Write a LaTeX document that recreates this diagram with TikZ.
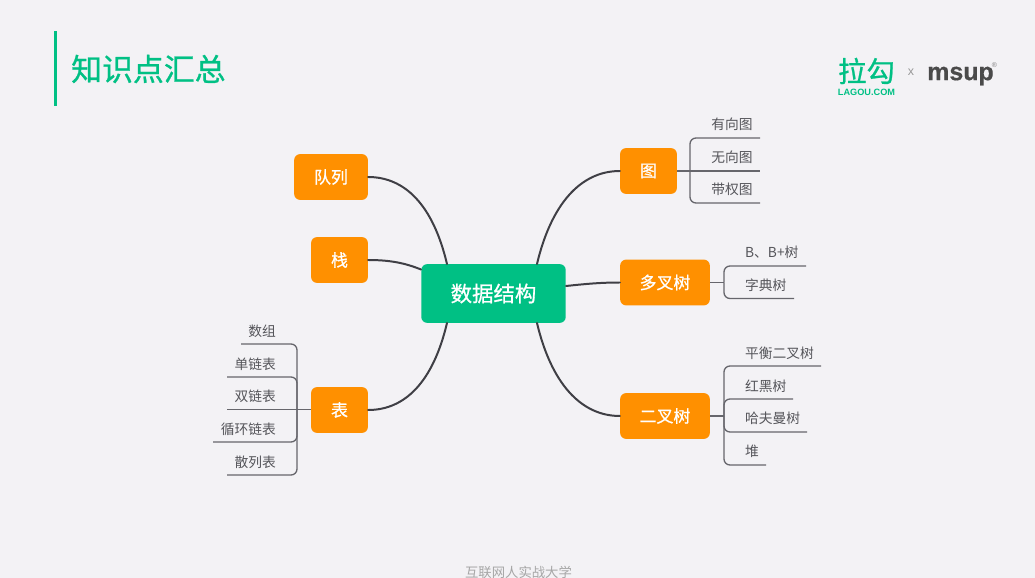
\documentclass[tikz,border=0pt]{standalone}
\usepackage{fontspec}
\setmainfont{Noto Sans CJK SC}
\newfontfamily\logofont{Liberation Sans}
\newfontfamily\midfont[FakeBold=0.8]{Noto Sans CJK SC}
\newfontfamily\logoheavy[FakeBold=0.5]{Liberation Sans Bold}
\definecolor{bgc}{HTML}{F3F2F5}
\definecolor{orangebox}{HTML}{FF9000}
\definecolor{greenbox}{HTML}{00C084}
\definecolor{mainline}{HTML}{3F3F45}
\definecolor{subline}{HTML}{66666C}
\definecolor{leaftext}{HTML}{55555A}
\definecolor{logogray}{HTML}{4A4A4A}
\newcommand{\fsz}[1]{\fontsize{#1}{#1}\selectfont}
\tikzset{
  box/.style={fill=orangebox,rounded corners=6,text=white,inner sep=0,font=\midfont\fsz{17}},
  rootbox/.style={fill=greenbox,rounded corners=6,text=white,inner sep=0,font=\midfont\fsz{21.5}},
  leafr/.style={text=leaftext,inner sep=0,anchor=east,font=\fsz{13.8}},
  leafl/.style={text=leaftext,inner sep=0,anchor=west,font=\fsz{13.8}},
  leafc/.style={text=leaftext,inner sep=0,anchor=center,font=\fsz{13.8}},
  trunk/.style={draw=mainline,line width=2,line cap=round},
  branch/.style={draw=subline,line width=1.3,rounded corners=6},
  stem/.style={draw=subline,line width=1.3},
}
\begin{document}
\begin{tikzpicture}[x=1bp,y=-1bp]
\fill[bgc] (0,0) rectangle (1035,578);
\useasboundingbox (0,0) rectangle (1035,578);

% header
\fill[greenbox] (53.5,31) rectangle (56.5,106);
\node[text=greenbox,inner sep=0,anchor=west,font=\midfont\fsz{31}] (title) at (71,69) {知识点汇总};
\node[text=greenbox,inner sep=0,font=\midfont\fsz{28.5}] (logoa) at (866.5,71) {拉勾};
\node[text=greenbox,inner sep=0,font=\logofont\fsz{9.2}\bfseries] (logob) at (866.5,92) {LAGOU.COM};
\node[text=gray!80,inner sep=0,font=\logofont\fsz{12.5}] (logox) at (911,72) {x};
\node[text=logogray,inner sep=0,font=\logoheavy\fsz{25}] (logoc) at (960.5,76) {msup};
\node[text=gray,inner sep=0,font=\logofont\fsz{7}] (logor) at (994.5,65) {®};
\node[text=gray!70,inner sep=0,font=\fsz{13.4}] (foot) at (518.5,572) {互联网人实战大学};

% main boxes
\node[rootbox,minimum width=145,minimum height=59] (root) at (493.5,293.5) {数据结构};
\node[box,minimum width=74,minimum height=46] (queue) at (331,177) {队列};
\node[box,minimum width=57,minimum height=46] (stack) at (339.5,260) {栈};
\node[box,minimum width=57,minimum height=46] (table) at (339.5,410) {表};
\node[box,minimum width=57,minimum height=46] (graph) at (648.5,171) {图};
\node[box,minimum width=90,minimum height=46] (mtree) at (665,282.5) {多叉树};
\node[box,minimum width=90,minimum height=46] (btree) at (665,416) {二叉树};

% main connectors
\coordinate (rtl) at (447,264);
\coordinate (rtr) at (537,264);
\coordinate (rbl) at (447,323);
\coordinate (rbr) at (537,323);
\coordinate (rsl) at (421,269.5);
\coordinate (rmr) at (566,286);
\draw[trunk] (rtl) .. controls (433,205) and (405,177) .. (queue.east);
\draw[trunk] (rsl) .. controls (405,263) and (390,260) .. (stack.east);
\draw[trunk] (rbl) .. controls (433,382) and (405,410) .. (table.east);
\draw[trunk] (rtr) .. controls (551,205) and (580,171) .. (graph.west);
\draw[trunk] (rmr) .. controls (585,284) and (600,282.5) .. (mtree.west);
\draw[trunk] (rbr) .. controls (551,382) and (580,416) .. (btree.west);

% table leaves
\node[leafr] (t1) at (276,331) {数组};
\node[leafr] (t2) at (276,364) {单链表};
\node[leafr] (t3) at (276,396.5) {双链表};
\node[leafr] (t4) at (276,429) {循环链表};
\node[leafr] (t5) at (276,462) {散列表};
\coordinate (tj) at (297,409.5);
\coordinate (te1) at (241,344);
\coordinate (te2) at (227,377);
\coordinate (te3) at (227,409.5);
\coordinate (te4) at (213,442);
\coordinate (te5) at (227,475);
\draw[stem] (table.west |- tj) -- (te3);
\foreach \e in {te1,te2,te4,te5} \draw[branch] (tj) |- (\e);

% graph leaves
\node[leafc] (g1) at (732,124) {有向图};
\node[leafc] (g2) at (732,157) {无向图};
\node[leafc] (g3) at (732,189) {带权图};
\coordinate (gj) at (690,171);
\coordinate (ge1) at (760,138);
\coordinate (ge2) at (760,171);
\coordinate (ge3) at (760,203);
\draw[stem] (graph.east) -- (ge2);
\foreach \e in {ge1,ge3} \draw[branch] (gj) |- (\e);

% multiway tree leaves
\node[leafl] (m1) at (745,252) {B、B+树};
\node[leafl] (m2) at (745,285) {字典树};
\coordinate (mj) at (724,282.5);
\coordinate (me1) at (806,266);
\coordinate (me2) at (794,298.5);
\draw[stem] (mtree.east) -- (mj);
\foreach \e in {me1,me2} \draw[branch] (mj) |- (\e);

% binary tree leaves
\node[leafl] (b1) at (745,353) {平衡二叉树};
\node[leafl] (b2) at (745,386) {红黑树};
\node[leafl] (b3) at (745,418.5) {哈夫曼树};
\node[leafl] (b4) at (745,451.5) {堆};
\coordinate (bj) at (724,416);
\coordinate (be1) at (821,366);
\coordinate (be2) at (793,399);
\coordinate (be3) at (807,432);
\coordinate (be4) at (766,465);
\draw[stem] (btree.east) -- (bj);
\foreach \e in {be1,be2,be3,be4} \draw[branch] (bj) |- (\e);
\end{tikzpicture}
\end{document}
